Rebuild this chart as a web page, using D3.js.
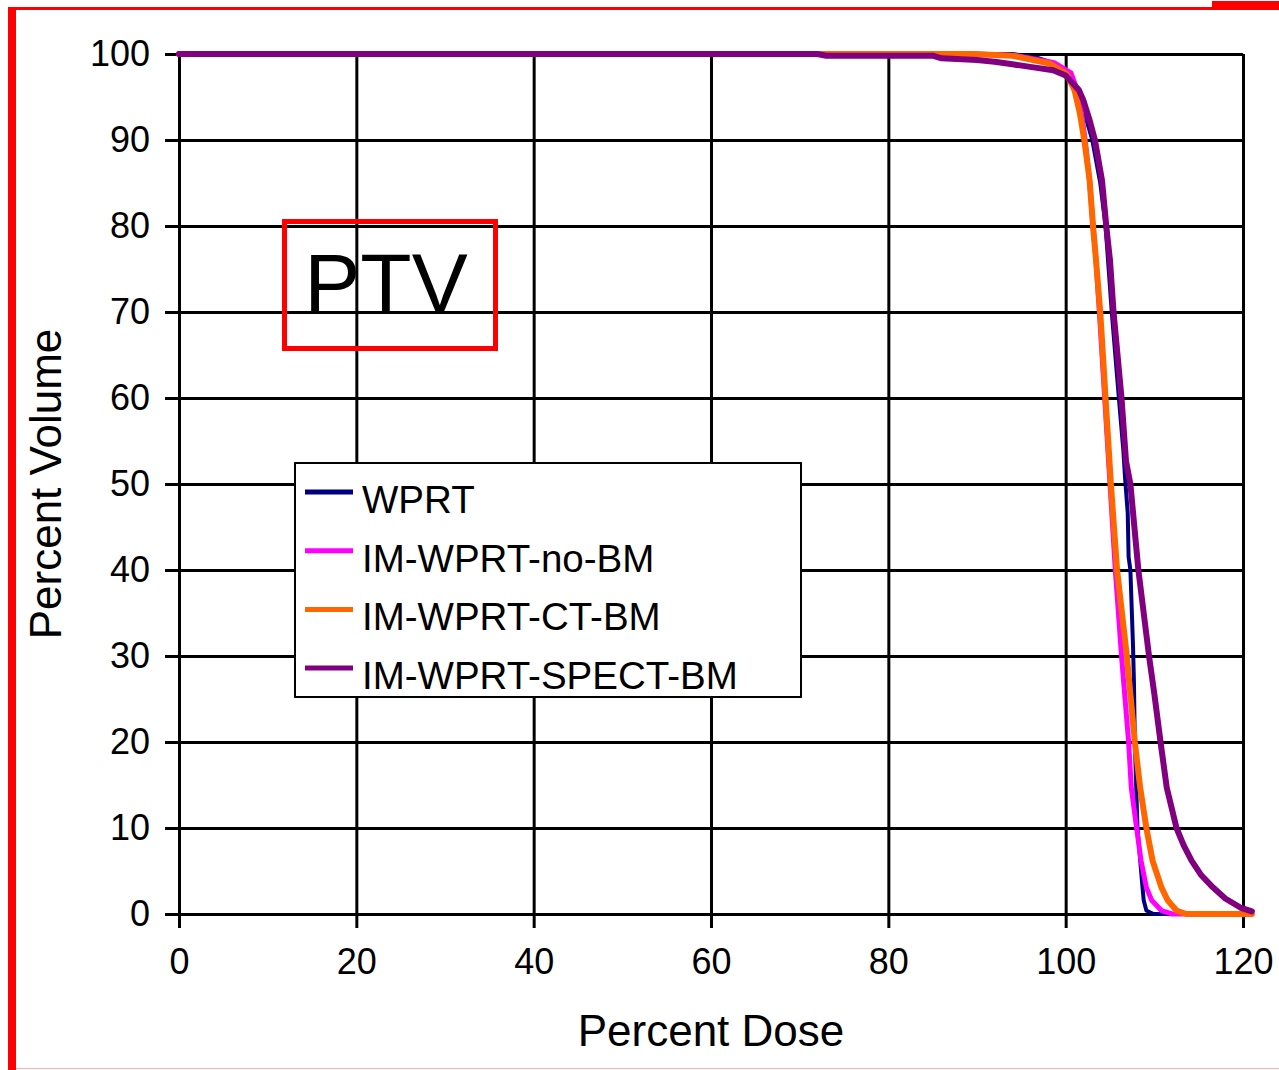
<!DOCTYPE html>
<html>
<head>
<meta charset="utf-8">
<script src="https://cdn.jsdelivr.net/npm/d3@7"></script>
<style>
  body { margin: 0; background: #fff; }
  svg { display: block; font-family: "Liberation Sans", Arial, Helvetica, sans-serif; }
</style>
</head>
<body>
<div id="chart"></div>
<script>
// series names, in legend order
var seriesNames = ['WPRT', 'IM-WPRT-no-BM', 'IM-WPRT-CT-BM', 'IM-WPRT-SPECT-BM'];

// dose (%) / volume (%) points
var wprtDose = [0, 94, 97, 99, 100.5, 101.5, 102.3, 103, 103.9, 104.5, 105.2, 106, 106.5, 106.7, 107, 107.1, 107.3, 107.6, 107.7, 107.8, 108.1, 108.6, 108.8, 109.1, 109.9, 121];
var wprtVol  = [100, 100, 99.5, 98.8, 97.5, 95.5, 92.5, 90, 85, 80, 70, 60, 54, 50.7, 46.6, 41.5, 40, 31, 27, 20, 10, 3.9, 1.6, 0.4, 0, 0];

var noBmDose = [0, 90, 94.5, 98.7, 100.6, 101.3, 101.8, 102.2, 102.7, 103.1, 103.4, 103.8, 104.4, 105, 105.6, 106.3, 107.1, 107.4, 108, 108.5, 109.1, 109.7, 110.8, 112, 121];
var noBmVol  = [100, 100, 99.8, 99, 97.8, 95.8, 93.1, 90, 85.3, 79.8, 76.3, 70, 60, 50, 40, 30, 20, 14.7, 10, 6.2, 3.1, 1.6, 0.4, 0, 0];

var ctBmDose = [0, 89.5, 94, 98.2, 100.1, 101, 101.6, 102.1, 102.7, 103.1, 103.4, 103.9, 104.5, 105.1, 105.8, 106.9, 107.8, 108.4, 109.1, 109.8, 110.8, 111.5, 112.5, 113.6, 121];
var ctBmVol  = [100, 100, 99.8, 98.9, 97.7, 95.8, 93.1, 90, 85.3, 79.8, 76.3, 70, 60, 50, 40, 30, 20, 14.7, 10, 6.2, 3.1, 1.6, 0.4, 0, 0];

var spectDose = [0, 72, 73, 85, 86, 90, 92, 94, 96, 98.6, 100, 100.8, 101.5, 102, 102.7, 103.3, 104.1, 104.6, 105, 105.4, 106.3, 106.8, 107.3, 108.2, 109.4, 110, 110.7, 111.4, 112.5, 113.3, 114.2, 115.3, 116.6, 118, 119.7, 121];
var spectVol  = [100, 100, 99.8, 99.8, 99.5, 99.3, 99.1, 98.8, 98.5, 98.1, 97.5, 96.6, 95.8, 94.6, 92.3, 90, 85.3, 79.8, 76, 70, 60, 52.7, 50, 40, 30, 25.6, 20, 14.7, 10, 8, 6.2, 4.5, 3.1, 1.8, 0.75, 0.3];

var xTicks = [0, 20, 40, 60, 80, 100, 120];
var yTicks = [0, 10, 20, 30, 40, 50, 60, 70, 80, 90, 100];

var colors = ['#000080', '#ff00ff', '#ff6600', '#800080'];
var widths = [4, 5, 6, 6];

function zip(dose, vol) {
    return dose.map(function(d, i) { return {dose: d, vol: vol[i]}; });
}
var series = [
    zip(wprtDose, wprtVol),
    zip(noBmDose, noBmVol),
    zip(ctBmDose, ctBmVol),
    zip(spectDose, spectVol)
];

var W = 1279, H = 1070;
var plot = {left: 179, right: 1243, top: 54, bottom: 914};

var svg = d3.select('#chart')
    .append('svg')
    .attr('width', W)
    .attr('height', H);

svg.append('rect').attr('width', W).attr('height', H).attr('fill', '#fff');

var x = d3.scaleLinear().domain([0, 120]).range([plot.left, plot.right]);
var y = d3.scaleLinear().domain([0, 100]).range([plot.bottom, plot.top]);

// grid
var yGrid = svg.append('g')
    .attr('transform', 'translate(' + plot.left + ',0)')
    .call(d3.axisLeft(y).tickValues(yTicks).tickSize(-(plot.right - plot.left)).tickFormat(''));
var xGrid = svg.append('g')
    .attr('transform', 'translate(0,' + plot.bottom + ')')
    .call(d3.axisBottom(x).tickValues(xTicks).tickSize(-(plot.bottom - plot.top)).tickFormat(''));
svg.selectAll('g.tick line').attr('stroke', '#000').attr('stroke-width', 3);
yGrid.select('.domain').remove();
xGrid.select('.domain').remove();

// axes with the outside ticks and labels
var yAxis = svg.append('g')
    .attr('transform', 'translate(' + plot.left + ',0)')
    .call(d3.axisLeft(y).tickValues(yTicks).tickSize(14).tickSizeOuter(0).tickPadding(15));
var xAxis = svg.append('g')
    .attr('transform', 'translate(0,' + plot.bottom + ')')
    .call(d3.axisBottom(x).tickValues(xTicks).tickSize(14).tickSizeOuter(0).tickPadding(20));

[yAxis, xAxis].forEach(function(ax) {
    ax.select('.domain').attr('stroke', '#000').attr('stroke-width', 3);
    ax.selectAll('line').attr('stroke', '#000').attr('stroke-width', 3);
    ax.selectAll('text')
        .attr('fill', '#000')
        .style('font-family', '"Liberation Sans", Arial, sans-serif')
        .style('font-size', '36px');
});

// curves
var line = d3.line()
    .x(function(d) { return x(d.dose); })
    .y(function(d) { return y(d.vol); });

svg.append('g')
    .selectAll('path')
    .data(series)
    .enter()
    .append('path')
    .attr('d', line)
    .attr('fill', 'none')
    .attr('stroke', function(d, i) { return colors[i]; })
    .attr('stroke-width', function(d, i) { return widths[i]; })
    .attr('stroke-linejoin', 'round')
    .attr('stroke-linecap', 'round');

// axis titles
svg.append('text')
    .attr('x', 711)
    .attr('y', 1046)
    .attr('text-anchor', 'middle')
    .style('font-size', '44px')
    .text('Percent Dose');

svg.append('text')
    .attr('transform', 'translate(61,484)rotate(-90)')
    .attr('text-anchor', 'middle')
    .style('font-size', '44px')
    .text('Percent Volume');

// legend
var legend = svg.append('g');
legend.append('rect')
    .attr('x', 295).attr('y', 463)
    .attr('width', 506).attr('height', 234)
    .attr('fill', '#fff')
    .attr('stroke', '#000')
    .attr('stroke-width', 2);

var items = legend.selectAll('g.item')
    .data(seriesNames)
    .enter()
    .append('g')
    .attr('class', 'item')
    .attr('transform', function(d, i) { return 'translate(0,' + (492 + i * 58.7) + ')'; });
items.append('line')
    .attr('x1', 305).attr('x2', 353)
    .attr('stroke', function(d, i) { return colors[i]; })
    .attr('stroke-width', 5);
items.append('text')
    .attr('x', 362)
    .attr('y', 21)
    .style('font-size', '38.5px')
    .text(function(d) { return d; });

// PTV label box
svg.append('rect')
    .attr('x', 284.5).attr('y', 221.5)
    .attr('width', 211).attr('height', 127)
    .attr('fill', 'none')
    .attr('stroke', '#ff0000')
    .attr('stroke-width', 5);
svg.append('text')
    .attr('x', 386)
    .attr('y', 312)
    .attr('text-anchor', 'middle')
    .style('font-size', '84px')
    .text('PTV');

// red frame around the figure
svg.append('rect').attr('x', 8).attr('y', 8).attr('width', 8).attr('height', H - 8).attr('fill', '#ff0000');
svg.append('rect').attr('x', 8).attr('y', 7).attr('width', 1210).attr('height', 3).attr('fill', '#ff0000');
svg.append('rect').attr('x', 1212).attr('y', 1).attr('width', W - 1212).attr('height', 9).attr('fill', '#ff0000');
svg.append('rect').attr('x', 16).attr('y', 1068).attr('width', W - 16).attr('height', 1).attr('fill', '#f6b3b3');
</script>
</body>
</html>
